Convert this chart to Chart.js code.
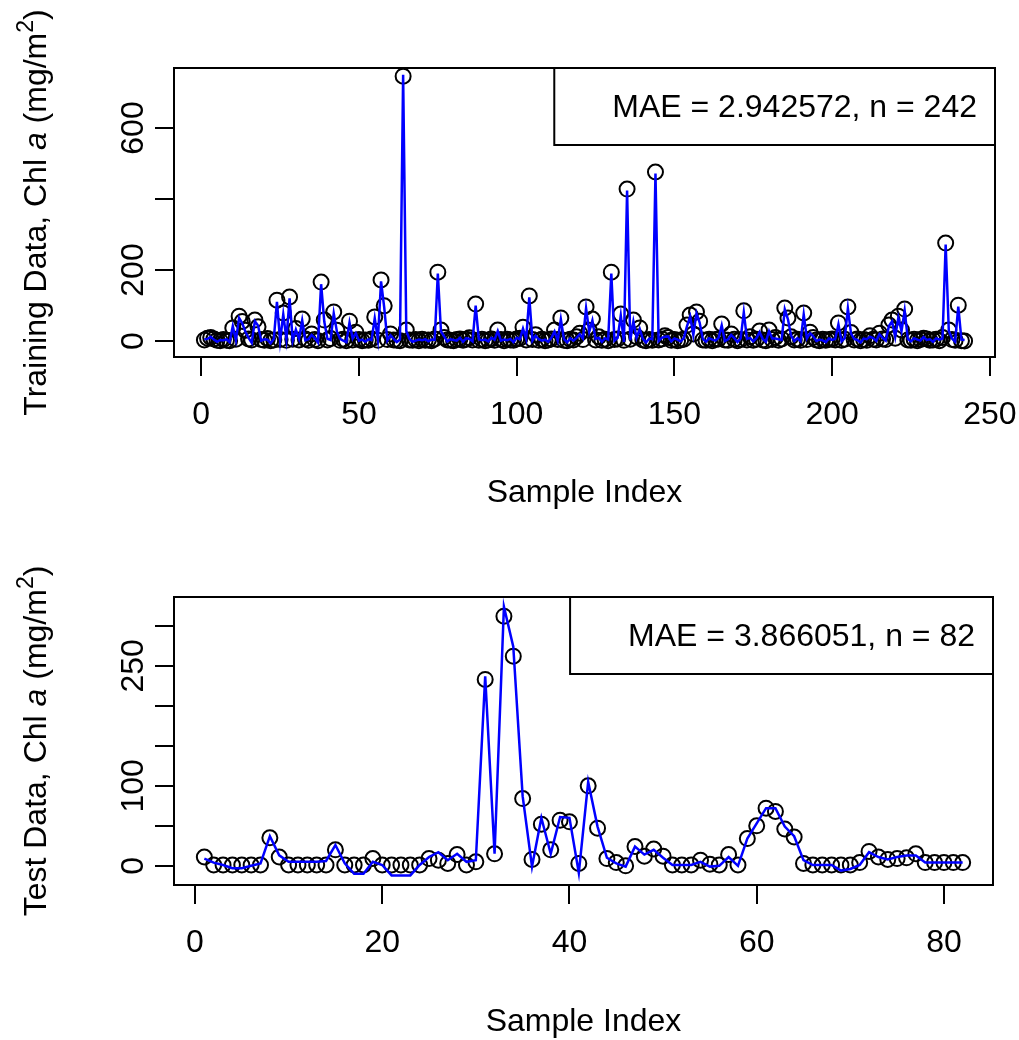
<!DOCTYPE html>
<html>
<head>
<meta charset="utf-8">
<script src="https://cdn.jsdelivr.net/npm/chart.js@4"></script>
<style>
body { margin: 0; background: #fff; }
canvas { position: absolute; left: 0; }
</style>
</head>
<body>
<canvas id="train" width="1019" height="520" style="top:0"></canvas>
<canvas id="test" width="1019" height="520" style="top:520px"></canvas>
<script>
// training set, observed chl a (circles) and predicted (blue line)
var trainObs = [
  3,8,10,6,2,1,4,2,1,37, 5,70,55,30,6,3,59,40,4,2,
  7,1,3,115,4,79,2,124,5,35, 3,62,6,2,20,4,1,166,59,3,
  7,82,30,2,5,1,56,3,25,4, 1,3,2,6,68,2,172,99,4,20,
  3,2,1,746,31,3,2,4,1,5, 2,3,1,6,194,31,10,3,2,1,
  4,6,2,5,9,3,104,2,5,1, 3,6,2,31,4,1,5,3,2,6,
  8,39,3,127,4,18,2,5,1,3, 6,31,4,65,2,1,5,3,12,22,
  4,96,30,62,3,12,2,5,1,194, 4,6,76,2,428,5,59,12,37,3,
  1,4,2,476,3,6,15,10,2,4, 1,3,5,45,73,20,82,56,3,2,
  5,1,4,6,48,3,2,20,5,1, 4,85,3,12,2,5,28,3,1,31,
  4,10,2,6,93,65,12,3,5,2, 79,4,25,10,3,1,5,2,4,6,
  3,51,2,5,96,24,3,6,1,4, 2,15,5,3,22,6,4,45,59,8,
  70,31,90,3,2,5,1,4,8,6, 2,3,5,1,10,276,31,4,2,101,
  1,0
];
var trainPred = [
  5,6,12,4,-2,3,2,5,-3,42, 2,65,50,26,9,-5,56,44,1,5,
  4,-6,6,110,1,75,6,120,1,32, 6,58,2,5,17,8,-4,160,55,6,
  3,78,27,6,1,-3,52,7,22,1, 4,-2,5,3,64,5,168,95,1,16,
  6,-3,4,750,28,6,-2,1,4,2, 5,-1,4,3,190,27,13,-1,5,3,
  1,9,-2,8,6,-1,100,5,2,4, -1,9,4,28,1,4,2,6,-3,9,
  5,35,6,123,1,15,5,1,4,-2, 9,27,1,61,5,-4,8,1,9,19,
  7,92,26,58,6,9,-2,8,4,190, 1,9,72,-3,424,2,55,9,34,6,
  -4,7,5,472,0,9,12,13,-1,7, 4,-1,8,42,69,17,78,52,6,-2,
  8,4,1,9,44,0,5,17,8,-3, 7,81,6,9,-1,8,25,6,-2,28,
  7,7,5,3,89,61,15,0,8,-1, 75,7,22,13,0,4,2,-3,7,3,
  6,47,-1,8,92,21,6,3,-4,7, 5,12,8,0,19,9,1,42,55,11,
  66,28,86,6,-1,8,4,1,11,3, 5,-2,8,4,7,272,28,7,-2,97,
  4,3
];
// test set
var testObs = [
  11,1,1,1,1,1,1,35,11,1, 1,1,1,1,20,1,1,1,9,1,
  1,1,1,1,9,7,3,14,1,5, 233,15,312,262,84,8,52,20,57,55,
  3,100,47,9,4,0,24,12,21,12, 1,1,1,7,2,1,14,1,34,50,
  72,68,46,36,3,1,1,1,1,1, 4,18,11,8,9,10,15,4,4,4,
  4,4
];
var testPred = [
  9,4,1,-3,-3,0,3,37,13,5, 5,5,5,6,26,3,-10,-10,5,1,
  -12,-12,-12,1,11,17,7,15,5,7, 237,15,324,274,87,-1,60,15,61,60,
  -9,105,49,10,3,-1,24,14,20,10, 1,1,1,5,-1,0,11,0,34,53,
  72,72,49,37,7,1,1,1,-6,-4, 1,17,11,8,11,13,13,4,4,4,
  4,4
];
var trainXTicks = [0, 50, 100, 150, 200, 250];
var trainYTicks = [0, 200, 400, 600];
var trainYLabels = [0, 200, 600];
var testXTicks = [0, 20, 40, 60, 80];
var testYTicks = [0, 50, 100, 150, 200, 250, 300];
var testYLabels = [0, 100, 250];

var FONT = '"Liberation Sans", Arial, Helvetica, sans-serif';

function pts(arr) {
  return arr.map(function (v, i) { return { x: i + 1, y: v }; });
}

// box, legend, rotated y labels and y title the R way
var rStyle = {
  id: 'rStyle',
  afterDraw: function (chart, args, o) {
    var ctx = chart.ctx, a = chart.chartArea, ys = chart.scales.y;
    ctx.save();
    ctx.strokeStyle = '#000';
    ctx.lineWidth = 2;
    ctx.strokeRect(a.left, a.top, a.right - a.left, a.bottom - a.top);

    // legend
    ctx.font = '32px ' + FONT;
    var tw = ctx.measureText(o.legend).width;
    var bw = tw + 76, bh = 77;
    ctx.fillStyle = '#fff';
    ctx.fillRect(a.right - bw, a.top, bw, bh);
    ctx.strokeRect(a.right - bw, a.top, bw, bh);
    ctx.fillStyle = '#000';
    ctx.textBaseline = 'middle';
    ctx.textAlign = 'left';
    ctx.fillText(o.legend, a.right - bw + 58, a.top + 40);

    // y tick labels, parallel to the axis
    ctx.textAlign = 'center';
    ctx.textBaseline = 'alphabetic';
    o.yLabels.forEach(function (v) {
      ctx.save();
      ctx.translate(143, ys.getPixelForValue(v));
      ctx.rotate(-Math.PI / 2);
      ctx.fillText(String(v), 0, 0);
      ctx.restore();
    });

    // y title with italic a and superscript 2
    var parts = [
      { t: o.yTitle + ', Chl ', f: '32px ' + FONT, dy: 0 },
      { t: 'a', f: 'italic 32px ' + FONT, dy: 0 },
      { t: ' (mg/m', f: '32px ' + FONT, dy: 0 },
      { t: '2', f: '23px ' + FONT, dy: -13 },
      { t: ')', f: '32px ' + FONT, dy: 0 }
    ];
    var total = 0;
    parts.forEach(function (p) { ctx.font = p.f; p.w = ctx.measureText(p.t).width; total += p.w; });
    ctx.save();
    ctx.translate(46, (a.top + a.bottom) / 2);
    ctx.rotate(-Math.PI / 2);
    ctx.textAlign = 'left';
    var cx = -total / 2;
    parts.forEach(function (p) {
      ctx.font = p.f;
      ctx.fillText(p.t, cx, p.dy);
      cx += p.w;
    });
    ctx.restore();
    ctx.restore();
  }
};

function panel(id, obs, pred, o) {
  return new Chart(document.getElementById(id), {
    type: 'scatter',
    data: {
      datasets: [
        { data: pts(pred), showLine: true, borderColor: '#0000ff', borderWidth: 2.5,
          pointRadius: 0, fill: false, tension: 0 },
        { data: pts(obs), pointRadius: 7.5, pointHoverRadius: 7.5, pointBorderWidth: 2,
          pointBorderColor: '#000', pointBackgroundColor: 'rgba(0,0,0,0)' }
      ]
    },
    options: {
      responsive: false,
      animation: false,
      events: [],
      layout: { padding: { top: o.top, right: o.right, left: 0, bottom: 0 } },
      plugins: {
        legend: { display: false },
        tooltip: { enabled: false },
        rStyle: { legend: o.legend, yLabels: o.yLabels, yTitle: o.yTitle }
      },
      scales: {
        x: {
          type: 'linear', min: o.xmin, max: o.xmax,
          afterBuildTicks: function (s) { s.ticks = o.xTicks.map(function (v) { return { value: v }; }); },
          afterFit: function (s) { s.height = o.xh; s.paddingLeft = 0; s.paddingRight = 0; },
          grid: { drawOnChartArea: false, tickLength: 19, color: '#000', lineWidth: 2 },
          border: { display: false },
          ticks: { autoSkip: false, maxRotation: 0, color: '#000', padding: 20,
                   font: { family: FONT, size: 32 } },
          title: { display: true, text: 'Sample Index', color: '#000',
                   font: { family: FONT, size: 32, lineHeight: 1 },
                   padding: { top: 0, bottom: o.titlePad } }
        },
        y: {
          type: 'linear', min: o.ymin, max: o.ymax,
          afterBuildTicks: function (s) { s.ticks = o.yTicks.map(function (v) { return { value: v }; }); },
          afterFit: function (s) { s.width = 174; s.paddingTop = 0; s.paddingBottom = 0; },
          grid: { drawOnChartArea: false, tickLength: 19, color: '#000', lineWidth: 2 },
          border: { display: false },
          ticks: { display: false }
        }
      }
    },
    plugins: [rStyle]
  });
}

panel('train', trainObs, trainPred, {
  top: 68, right: 24, xh: 163, titlePad: 11,
  xmin: -8.64, xmax: 251.64, ymin: -45, ymax: 769,
  xTicks: trainXTicks, yTicks: trainYTicks, yLabels: trainYLabels,
  legend: 'MAE = 2.942572, n = 242', yTitle: 'Training Data'
});

panel('test', testObs, testPred, {
  top: 77, right: 26, xh: 155, titlePad: 2,
  xmin: -2.24, xmax: 85.24, ymin: -24, ymax: 336,
  xTicks: testXTicks, yTicks: testYTicks, yLabels: testYLabels,
  legend: 'MAE = 3.866051, n = 82', yTitle: 'Test Data'
});
</script>
</body>
</html>
